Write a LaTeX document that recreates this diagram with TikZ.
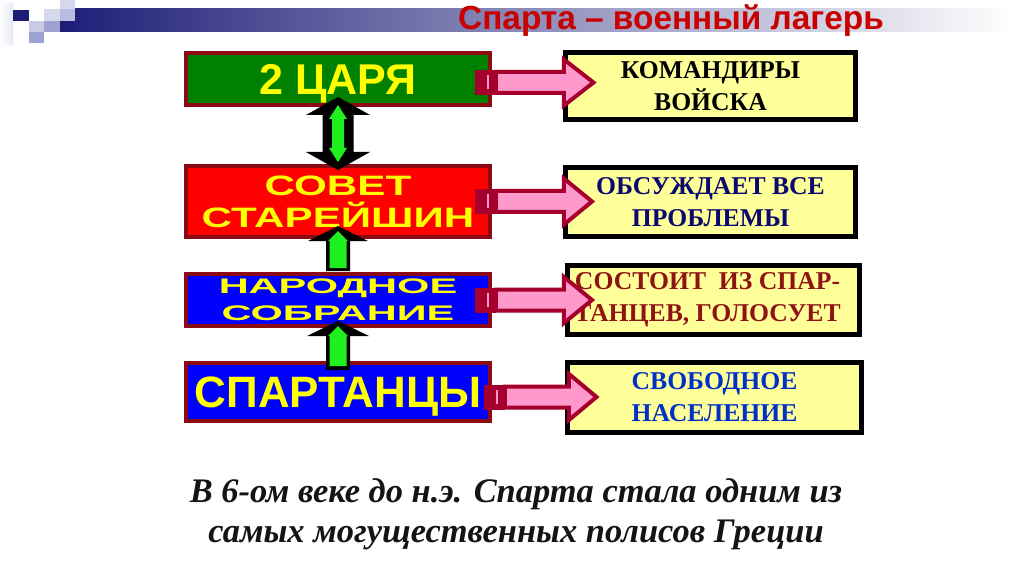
\documentclass[tikz,border=0pt]{standalone}
\usepackage{fontspec}
\setmainfont{Liberation Serif}
\newfontfamily\arialf{Liberation Sans}
\usetikzlibrary{calc}
\definecolor{titlered}{HTML}{C80000}
\definecolor{navy}{HTML}{1E1E78}
\definecolor{boxred}{HTML}{8C0A14}
\definecolor{kgreen}{HTML}{008000}
\definecolor{kred}{HTML}{FF0000}
\definecolor{kblue}{HTML}{0000FF}
\definecolor{kyellow}{HTML}{FFFF00}
\definecolor{paleyellow}{HTML}{FFFF99}
\definecolor{arrowpink}{HTML}{FF99CC}
\definecolor{arrowred}{HTML}{A5002D}
\definecolor{vgreen}{HTML}{1EF01E}
\definecolor{txtnavy}{HTML}{0A0A6E}
\definecolor{txtdred}{HTML}{8E1414}
\definecolor{txtblue}{HTML}{0030C8}
\definecolor{txtdark}{HTML}{141414}
\definecolor{sqA}{HTML}{C8CAE6}
\definecolor{sqB}{HTML}{9EA2D2}
\definecolor{sqC}{HTML}{D6D8EE}
\definecolor{sqD}{HTML}{B8BCE0}
\newcommand\pinkarrow[3]{% tail x, head base x, tip x (relative)
  \fill[arrowred] (#1,-12.5) rectangle ({#1+21},12.5);
  \fill[arrowpink] ({#1+12},-7) rectangle ({#1+14},7);
  \draw[arrowline] ({#1+21},-10.5) -- (#2,-10.5) -- (#2,-23) -- (#3,0) -- (#2,23) -- (#2,10.5) -- ({#1+21},10.5) -- cycle;
}
\begin{document}
\begin{tikzpicture}[x=0.02cm,y=-0.02cm,
  leftbox/.style={draw=boxred,line width=0.08cm,minimum width=6.08cm,inner sep=0pt,text=kyellow,align=center},
  rightbox/.style={draw=black,line width=0.1cm,fill=paleyellow,inner sep=0pt,align=center,
     font=\bfseries\fontsize{14.6}{18.2}\selectfont},
  arrowline/.style={draw=arrowred,line width=0.08cm,fill=arrowpink},
  vblack/.style={fill=black},
  vgreenfill/.style={fill=vgreen}]
\useasboundingbox (0,0) rectangle (1024,574);
\fill[white] (0,0) rectangle (1024,574);
% header bar and squares
\shade[left color=navy,right color=white] (60,9) rectangle (1015,32);
\shade[left color=white,right color=sqC!60] (0,4) rectangle (13,45);
\fill[navy] (13,10) rectangle (29,21);
\fill[sqA] (29,21) rectangle (44,32);
\fill[sqB] (44,21) rectangle (60,32);
\fill[sqC] (44,9) rectangle (60,21);
\fill[sqC] (60,0) rectangle (75,9);
\fill[sqD] (60,9) rectangle (75,21);
\fill[navy] (60,21) rectangle (75,32);
\fill[sqB] (29,32) rectangle (44,43);
\node[anchor=base,text=titlered,font=\arialf\bfseries\fontsize{19}{21}\selectfont] (title) at (671,30) {Спарта – военный лагерь};
% left boxes
\node[leftbox,fill=kgreen,minimum height=1.04cm,text height=0.64cm,text depth=0cm,font=\arialf\bfseries\fontsize{24.5}{26}\selectfont] (l1) at (338,79) {2 ЦАРЯ};
\node[leftbox,fill=kred,minimum height=1.42cm,font=\arialf\bfseries\fontsize{16}{18.2}\selectfont] (l2) at (338,201.5) {\scalebox{1.5}[1]{СОВЕТ}\\\scalebox{1.5}[1]{СТАРЕЙШИН}};
\node[leftbox,fill=kblue,minimum height=1.04cm,font=\arialf\bfseries\fontsize{12}{15.4}\selectfont] (l3) at (338,300) {\scalebox{1.97}[1]{НАРОДНОЕ}\\\scalebox{1.97}[1]{СОБРАНИЕ}};
\node[leftbox,fill=kblue,minimum height=1.16cm,text height=0.64cm,text depth=0cm,font=\arialf\bfseries\fontsize{25}{28}\selectfont] (l4) at (338,392) {СПАРТАНЦЫ};
% right boxes
\node[rightbox,minimum width=5.8cm,minimum height=1.34cm,text=black] (r1) at (710.5,86) {КОМАНДИРЫ\\ВОЙСКА};
\node[rightbox,minimum width=5.8cm,minimum height=1.38cm,text=txtnavy] (r2) at (710.5,202) {ОБСУЖДАЕТ ВСЕ\\ПРОБЛЕМЫ};
\node[rightbox,minimum width=5.84cm,minimum height=1.38cm,text=txtdred] (r3) at (713.5,300) {\hspace*{-0.24cm}СОСТОИТ\ \ ИЗ СПАР-\\\hspace*{-0.24cm}ТАНЦЕВ, ГОЛОСУЕТ};
\node[rightbox,minimum width=5.88cm,minimum height=1.40cm,text=txtblue] (r4) at (714.5,397.5) {СВОБОДНОЕ\\НАСЕЛЕНИЕ};
% horizontal arrows (left box -> right box)
\begin{scope}[shift={($(l1.east)+(0,3.5)$)}]\pinkarrow{-17}{72}{101.5}\end{scope}
\begin{scope}[shift={(l2.east)}]\pinkarrow{-17}{72}{100}\end{scope}
\begin{scope}[shift={(l3.east)}]\pinkarrow{-17}{72}{100}\end{scope}
\begin{scope}[shift={($(l4.east)+(0,5)$)}]\pinkarrow{-8}{77}{104.5}\end{scope}
% vertical arrows
\begin{scope}[shift={(l1.south)}]
  \fill[vblack] (0,-10) -- (32,8) -- (15.5,8) -- (15.5,45) -- (32,45) -- (0,63) -- (-32,45) -- (-15.5,45) -- (-15.5,8) -- (-32,8) -- cycle;
  \fill[vgreenfill] (0,-2) -- (9,12) -- (6,12) -- (6,41) -- (9,41) -- (0,55) -- (-9,41) -- (-6,41) -- (-6,12) -- (-9,12) -- cycle;
\end{scope}
\begin{scope}[shift={(l3.north)}]
  \fill[vblack] (0,-46) -- (30,-31) -- (12,-31) -- (12,-1) -- (-12,-1) -- (-12,-31) -- (-30,-31) -- cycle;
  \fill[vgreenfill] (0,-41) -- (10,-31) -- (8.5,-31) -- (8.5,-4) -- (-8.5,-4) -- (-8.5,-31) -- (-10,-31) -- cycle;
\end{scope}
\begin{scope}[shift={(l4.north)}]
  \fill[vblack] (0,-40) -- (31,-25) -- (12,-25) -- (12,9) -- (-12,9) -- (-12,-25) -- (-31,-25) -- cycle;
  \fill[vgreenfill] (0,-35) -- (10,-25) -- (8.5,-25) -- (8.5,5) -- (-8.5,5) -- (-8.5,-25) -- (-10,-25) -- cycle;
\end{scope}
% bottom text
\node[align=center,text=txtdark,font=\bfseries\itshape\fontsize{19.6}{22.8}\selectfont] (note) at (516,514) {В 6-ом веке до н.э. Спарта стала одним из\\самых могущественных полисов Греции};
\end{tikzpicture}
\end{document}
